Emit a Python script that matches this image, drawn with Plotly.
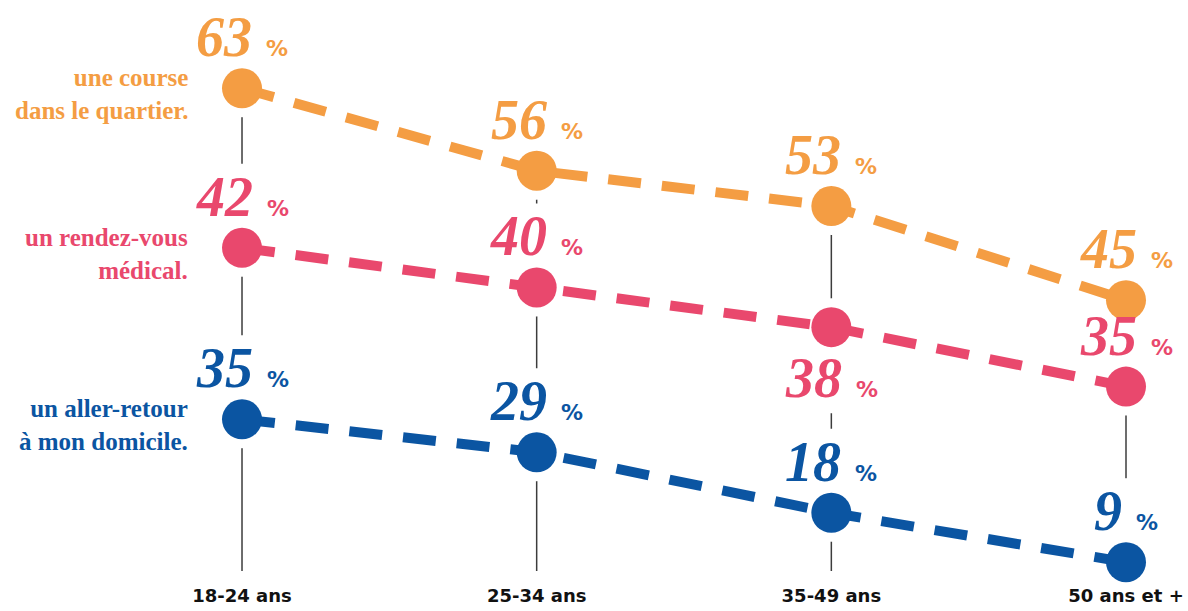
import plotly.graph_objects as go

# ---- data -------------------------------------------------------------
age_groups = ["18-24 ans", "25-34 ans", "35-49 ans", "50 ans et +"]
course_quartier = [63, 56, 53, 45]          # une course dans le quartier
rendez_vous_medical = [42, 40, 38, 35]      # un rendez-vous médical
aller_retour_domicile = [35, 29, 18, 9]     # un aller-retour à mon domicile

series_names = [
    "une course<br>dans le quartier.",
    "un rendez-vous<br>médical.",
    "un aller-retour<br>à mon domicile.",
]

# ---- styling ----------------------------------------------------------
ORANGE = "#F49D43"
PINK = "#E9486D"
BLUE = "#0B55A2"
STEM = "#3c3c3c"

SERIF = "Liberation Serif"
SANS = "DejaVu Sans"

# each series is drawn on its own (hidden) vertical scale
AXES = [
    dict(ref="y", key="yaxis", range=[22.0, 70.5]),
    dict(ref="y2", key="yaxis2", range=[25.7, 54.5]),
    dict(ref="y3", key="yaxis3", range=[7.4, 111.3]),
]

series = [
    dict(name=series_names[0], values=course_quartier, color=ORANGE, axis=AXES[0]),
    dict(name=series_names[1], values=rendez_vous_medical, color=PINK, axis=AXES[1]),
    dict(name=series_names[2], values=aller_retour_domicile, color=BLUE, axis=AXES[2]),
]

# value labels that sit under their dot instead of above it
LABEL_BELOW = {(1, 2)}

MARKER_SIZE = 40
LINE_WIDTH = 10
DASH = "33px,21px"

fig = go.Figure()

shapes = []

# thin vertical stems, from the top dot of each age group down to the axis
for cat, top in zip(age_groups, course_quartier):
    shapes.append(dict(
        type="line", layer="below", xref="x", yref=AXES[0]["ref"],
        x0=cat, x1=cat, y0=top, y1=AXES[0]["range"][0],
        line=dict(color=STEM, width=1.5),
    ))

# white clearings around dots and value labels so the stems break there
for si, s in enumerate(series):
    for ci, (cat, v) in enumerate(zip(age_groups, s["values"])):
        shapes.append(dict(
            type="circle", layer="below", xref="x", yref=s["axis"]["ref"],
            xsizemode="pixel", ysizemode="pixel", xanchor=cat, yanchor=v,
            x0=-29, x1=29, y0=-29, y1=29,
            fillcolor="white", line=dict(width=0),
        ))
        if (si, ci) in LABEL_BELOW:
            y0, y1 = -86, -20
        else:
            y0, y1 = 22, 84
        shapes.append(dict(
            type="rect", layer="below", xref="x", yref=s["axis"]["ref"],
            xsizemode="pixel", ysizemode="pixel", xanchor=cat, yanchor=v,
            x0=-8, x1=8, y0=y0, y1=y1,
            fillcolor="white", line=dict(width=0),
        ))

annotations = []

for si, s in enumerate(series):
    fig.add_trace(go.Scatter(
        x=age_groups, y=s["values"], yaxis=s["axis"]["ref"],
        mode="lines+markers",
        line=dict(color=s["color"], width=LINE_WIDTH, dash=DASH),
        marker=dict(color=s["color"], size=MARKER_SIZE, line=dict(width=0)),
        cliponaxis=False, hoverinfo="skip", showlegend=False,
    ))

    # series caption on the left of the first column
    annotations.append(dict(
        x=age_groups[0], y=s["values"][0], xref="x", yref=s["axis"]["ref"],
        text=f"<b>{s['name']}</b>", showarrow=False,
        xanchor="right", yanchor="middle", align="right",
        xshift=-52, yshift=-6,
        font=dict(family=SERIF, size=25, color=s["color"]),
    ))

    # value labels
    for ci, (cat, v) in enumerate(zip(age_groups, s["values"])):
        below = (si, ci) in LABEL_BELOW
        annotations.append(dict(
            x=cat, y=v, xref="x", yref=s["axis"]["ref"],
            text=(f"<b><i>{v}</i></b> "
                  f"<span style='font-family:DejaVu Sans;font-size:22px;font-weight:bold'>%</span>"),
            showarrow=False, xanchor="center", yanchor="middle",
            yshift=-51 if below else 51,
            font=dict(family=SERIF, size=56, color=s["color"]),
        ))

layout_axes = {}
for i, ax in enumerate(AXES):
    cfg = dict(range=ax["range"], visible=False, fixedrange=True)
    if i > 0:
        cfg["overlaying"] = "y"
        cfg["anchor"] = "x"
    layout_axes[ax["key"]] = cfg

fig.update_layout(
    width=1188, height=611,
    margin=dict(l=0, r=0, t=0, b=40),
    paper_bgcolor="white", plot_bgcolor="white",
    xaxis=dict(
        type="category", categoryarray=age_groups,
        range=[-0.8213, 3.2104],
        showgrid=False, zeroline=False, showline=False, ticks="",
        tickfont=dict(family=SANS, size=18, color="#111111", weight="bold"),
        ticklabelstandoff=12, fixedrange=True,
    ),
    shapes=shapes,
    annotations=annotations,
    **layout_axes,
)

fig.write_html("out.html")
